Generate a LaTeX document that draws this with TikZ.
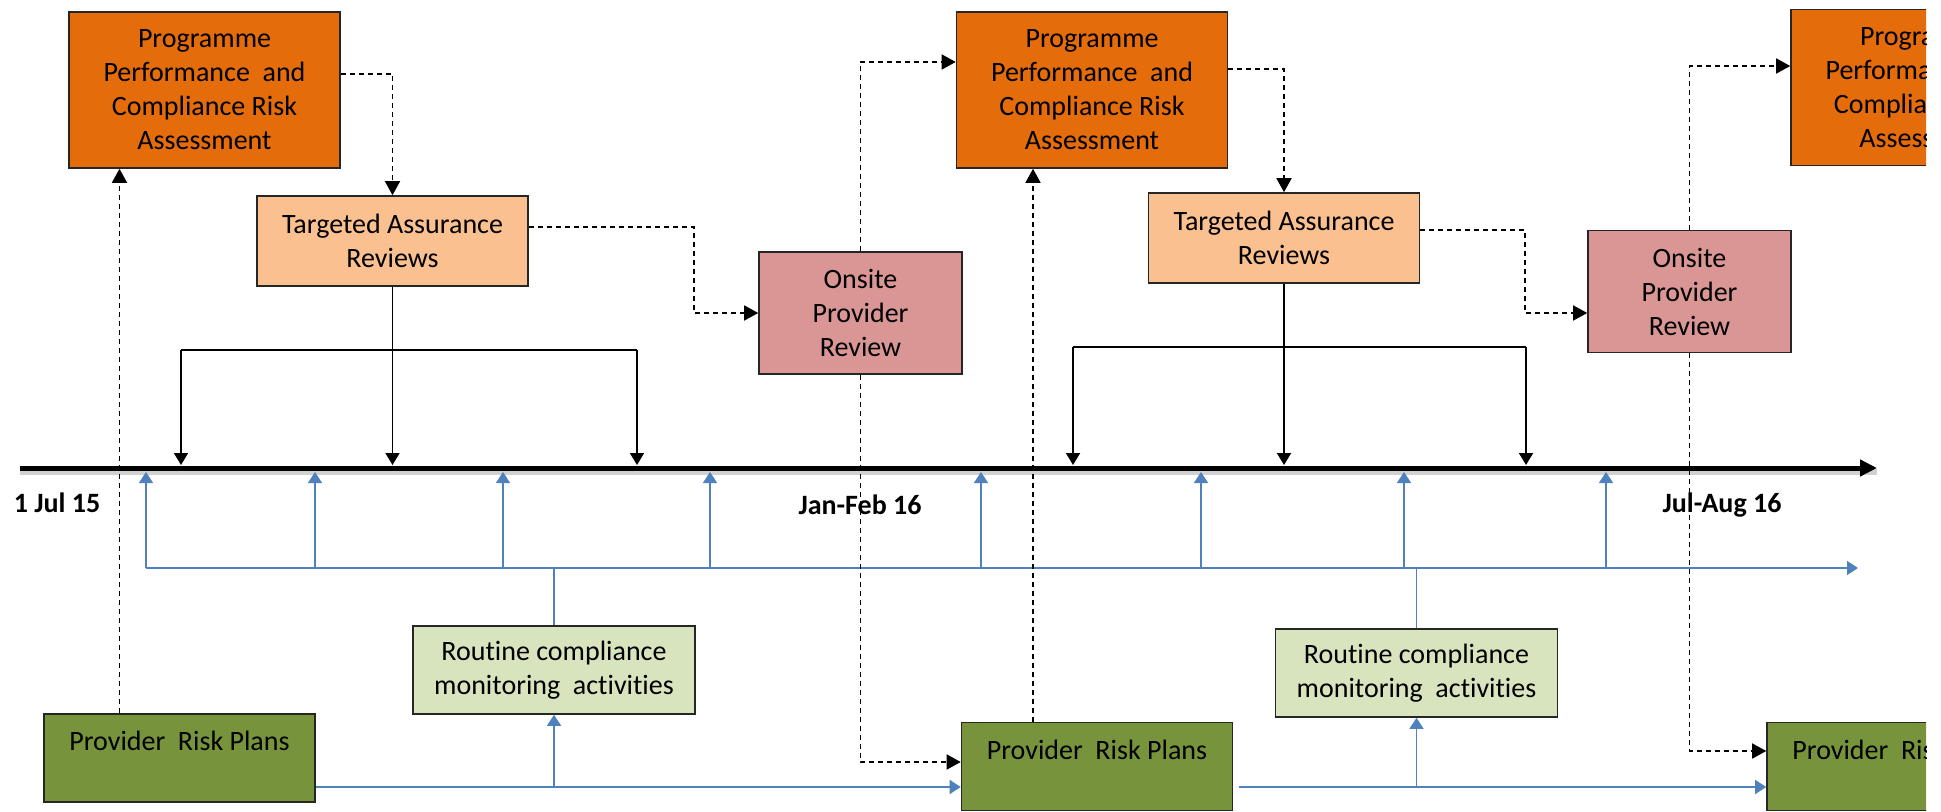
\documentclass[tikz,border=0pt]{standalone}
\usepackage{fontspec}
\setmainfont{Carlito}[Ligatures=NoCommon]
\usetikzlibrary{arrows.meta}
\definecolor{ppcfill}{HTML}{E46C0A}
\definecolor{tarfill}{HTML}{FAC090}
\definecolor{onsfill}{HTML}{D99694}
\definecolor{rtnfill}{HTML}{D7E4BD}
\definecolor{prpfill}{HTML}{77933C}
\definecolor{blueln}{HTML}{4F81BD}

\begin{document}
\begin{tikzpicture}[
  x=0.5pt, y=-0.5pt, >={Triangle[length=6pt,width=7pt]},
  box/.style={draw=black!85, line width=0.8pt, align=center, inner sep=0pt,
              font=\fontsize{14}{17}\selectfont},
  ppcbox/.style={box, fill=ppcfill, minimum width=135.5pt, minimum height=78pt},
  tarbox/.style={box, fill=tarfill, minimum width=135.5pt, minimum height=45pt},
  onsbox/.style={box, fill=onsfill, minimum width=101.5pt, minimum height=61pt},
  rtnbox/.style={box, fill=rtnfill, minimum width=141pt, minimum height=44pt},
  prpbox/.style={box, fill=prpfill, minimum width=135.5pt, minimum height=44pt},
  lbl/.style={font=\fontsize{14}{17}\selectfont\bfseries},
  dsh/.style={->, dashed, dash pattern=on 2.5pt off 2pt, line width=0.75pt,
              >={Triangle[length=7pt,width=7.5pt]}},
  tick/.style={->, line width=0.9pt},
  bline/.style={draw=blueln, line width=0.75pt, >={Triangle[length=5.5pt,width=7pt]}}]
  \path[use as bounding box] (0,0) rectangle (1941,812);
  \clip (0,0) rectangle (1926,812);

  \node[ppcbox] (ppc1) at (204.5,90) {Programme\\Performance\ \ and\\Compliance Risk\\Assessment};
  \node[ppcbox] (ppc2) at (1092,90) {Programme\\Performance\ \ and\\Compliance Risk\\Assessment};
  \node[ppcbox] (ppc3) at (1926.5,87.5) {Programme\\Performance\ \ and\\Compliance Risk\\Assessment};
  \node[tarbox] (tar1) at (392.5,241) {Targeted Assurance\\Reviews};
  \node[tarbox] (tar2) at (1284,238) {Targeted Assurance\\Reviews};
  \node[onsbox] (ons1) at (860.5,313) {Onsite\\Provider\\Review};
  \node[onsbox] (ons2) at (1689.5,291.5) {Onsite\\Provider\\Review};
  \node[rtnbox] (rtn1) at (554,670) {Routine compliance\\monitoring\ \ activities};
  \node[rtnbox] (rtn2) at (1416.5,673) {Routine compliance\\monitoring\ \ activities};
  \node[prpbox] (prp1) at (179.5,758) {Provider\ \ Risk Plans\\\mbox{}};
  \node[prpbox] (prp2) at (1097,766.5) {Provider\ \ Risk Plans\\\mbox{}};
  \node[prpbox] (prp3) at (1902.5,766.5) {Provider\ \ Risk Plans\\\mbox{}};

  \node[lbl] (day1) at (57,503) {1 Jul 15};
  \node[lbl] (day2) at (860,505) {Jan-Feb 16};
  \node[lbl] (day3) at (1722,505) {Jul-Aug 16};

  \coordinate (t0) at (20,468);
  \coordinate (t1) at (1877,468);
  \draw[black!18, line width=3pt] ([yshift=-2pt]t0) -- ([yshift=-2pt]t1);
  \draw[line width=2.5pt, -{Triangle[length=8.5pt,width=8pt]}] (t0) -- (t1);

  \coordinate (tl) at (0,465);
  \coordinate (b1l) at (181,350);
  \coordinate (b1r) at (637,350);
  \coordinate (b2l) at (1073,347);
  \coordinate (b2r) at (1526,347);
  \draw[tick] (tar1.south) -- (tar1.south |- tl);
  \draw[tick] (tar2.south) -- (tar2.south |- tl);
  \draw[line width=0.9pt] (b1l) -- (b1r);
  \draw[line width=0.9pt] (b2l) -- (b2r);
  \foreach \b in {b1l,b1r,b2l,b2r}
    \draw[tick] (\b) -- (\b |- tl);

  \coordinate (tb) at (0,472);
  \coordinate (bb) at (0,787);
  \foreach \x [count=\i] in {146,315,503,710,981,1201,1404,1606}
    \coordinate (m\i) at (\x,568);
  \coordinate (mend) at (1858,568);
  \foreach \i in {1,...,8}
    \draw[bline, ->] (m\i) -- (m\i |- tb);
  \draw[bline, ->] (m1) -- (mend);
  \draw[bline] (rtn1.north) -- (rtn1.north |- m1);
  \draw[bline] (rtn2.north) -- (rtn2.north |- m1);
  \draw[bline, ->] (prp1.east |- bb) -- (prp2.west |- bb);
  \draw[bline, ->] ([xshift=3pt]prp2.east |- bb) -- (prp3.west |- bb);
  \draw[bline, ->] (rtn1.south |- bb) -- (rtn1.south);
  \draw[bline, ->] (rtn2.south |- bb) -- (rtn2.south);

  \draw[dsh] ([xshift=-30pt]prp1.north) -- ([xshift=-30pt]prp1.north |- ppc1.south);
  \draw[dsh] ([xshift=-32pt]prp2.north) -- ([xshift=-32pt]prp2.north |- ppc2.south);
  \draw[dsh] ([yshift=8pt]ppc1.east) -| (tar1.north);
  \draw[dsh] ([yshift=10.5pt]ppc2.east) -| (tar2.north);
  \draw[dsh] ([yshift=7pt]tar1.east) -| ([xshift=-32pt]ons1.west) -- (ons1.west);
  \draw[dsh] ([yshift=4pt]tar2.east) -| ([xshift=-31pt,yshift=-10.75pt]ons2.west)
    -- ([yshift=-10.75pt]ons2.west);
  \draw[dsh] (ons1.north) |- ([yshift=14pt]ppc2.west);
  \draw[dsh] (ons2.north) |- ([yshift=10.75pt]ppc3.west);
  \draw[dsh] (ons1.south) |- ([yshift=2.25pt]prp2.west);
  \draw[dsh] (ons2.south) |- ([yshift=7.75pt]prp3.west);
\end{tikzpicture}
\end{document}
